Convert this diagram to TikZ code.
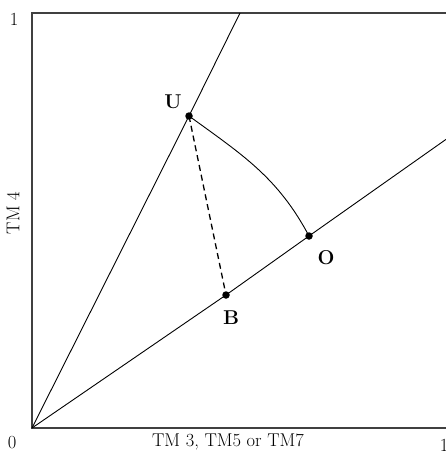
\documentclass[tikz,border=0pt]{standalone}
\begin{document}
\begin{tikzpicture}[x=1pt,y=-1pt,
  axis/.style={draw=black!75,line width=1.3pt},
  ray/.style={draw=black,line width=0.9pt},
  pt/.style={circle,fill=black,inner sep=0pt,minimum size=7.5pt},
  lab/.style={font=\fontsize{20}{24}\selectfont\bfseries},
  txt/.style={font=\fontsize{18.5}{22}\selectfont}]
\useasboundingbox (0,0) rectangle (445,452);
\coordinate (org) at (32,428);
\coordinate (tl) at (32,13);
\coordinate (tr) at (460,13);
\coordinate (br) at (460,428);
\coordinate (rtop) at (240,13);
\coordinate (rright) at (460,129.5);
\draw[axis] (tr) -- (tl) -- (org) -- (br);
\node[pt] (U) at (189,116) {};
\node[pt] (B) at (226,295) {};
\node[pt] (O) at (309,236) {};
\draw[ray] (org) -- (U.center) -- (rtop);
\draw[ray] (org) -- (B.center) -- (O.center) -- (rright);
\draw[ray,dashed,dash pattern=on 6pt off 4pt,line width=1.3pt] (U.center) -- (B.center);
\draw[ray] (U.center) to[out=-36,in=118] (O.center);
\node[lab] (Ul) at (173,102) {U};
\node[lab] (Ol) at (326,258) {O};
\node[lab] (Bl) at (231,318) {B};
\node[txt] (y1) at (14,19) {1};
\node[txt] (x0) at (12,443) {0};
\node[txt] (x1) at (444,445) {1};
\node[txt] (xl) at (228,442) {TM 3, TM5 or TM7};
\node[txt,rotate=90] (yl) at (13,213) {TM 4};
\end{tikzpicture}
\end{document}
